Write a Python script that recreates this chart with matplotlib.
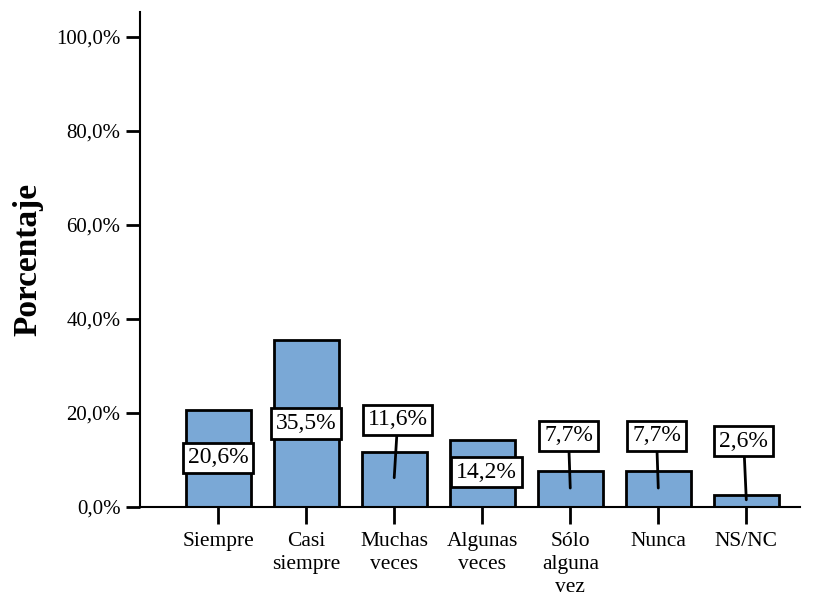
import matplotlib.pyplot as plt

plt.rcParams['font.family'] = ['Liberation Serif', 'DejaVu Serif']

categories = ["Siempre", "Casi\nsiempre", "Muchas\nveces", "Algunas\nveces",
              "Sólo\nalguna\nvez", "Nunca", "NS/NC"]
values = [20.6, 35.5, 11.6, 14.2, 7.7, 7.7, 2.6]
labels = ["20,6%", "35,5%", "11,6%", "14,2%", "7,7%", "7,7%", "2,6%"]
yticks = [0, 20, 40, 60, 80, 100]
ytick_labels = ["0,0%", "20,0%", "40,0%", "60,0%", "80,0%", "100,0%"]

# label box positions (data coords) and leader line anchor inside the bar
label_y = [10.4, 17.7, 18.5, 7.4, 15.1, 15.1, 14.0]
label_dx = [0, 0, 0.04, 0.05, -0.02, -0.02, -0.03]
anchor_y = [None, None, 6.2, None, 4.0, 4.0, 1.5]

fig = plt.figure(figsize=(8.13, 5.97), dpi=100)
ax = fig.add_axes([0.172, 0.151, 0.812, 0.829])

x = list(range(len(categories)))
ax.bar(x, values, width=0.74, color="#7AA8D6", edgecolor="black", linewidth=2, zorder=2)

for i in x:
    box = dict(boxstyle="square,pad=0.2", facecolor="white", edgecolor="black", linewidth=2)
    if anchor_y[i] is None:
        ax.text(i + label_dx[i], label_y[i], labels[i], ha="center", va="center",
                fontsize=17, bbox=box, zorder=4)
    else:
        ax.annotate(labels[i], xy=(i, anchor_y[i]), xytext=(i + label_dx[i], label_y[i]),
                    ha="center", va="center", fontsize=17, bbox=box, zorder=4,
                    arrowprops=dict(arrowstyle="-", color="black", lw=2, shrinkA=0, shrinkB=0))

ax.set_xlim(-0.89, 6.61)
ax.set_ylim(0, 105.3)
ax.set_xticks(x)
ax.set_xticklabels(categories, fontsize=15.5, va="top", linespacing=1.3)
ax.set_yticks(yticks)
ax.set_yticklabels(ytick_labels, fontsize=15)
ax.tick_params(axis="y", direction="out", length=10, width=2, pad=4)
ax.tick_params(axis="x", direction="out", length=12, width=2, pad=6)
ax.set_ylabel("Porcentaje", fontsize=24, fontweight="bold", labelpad=9)

ax.spines["top"].set_visible(False)
ax.spines["right"].set_visible(False)
ax.spines["left"].set_linewidth(1.5)
ax.spines["bottom"].set_linewidth(1.5)

fig.savefig("out.png", dpi=100)
